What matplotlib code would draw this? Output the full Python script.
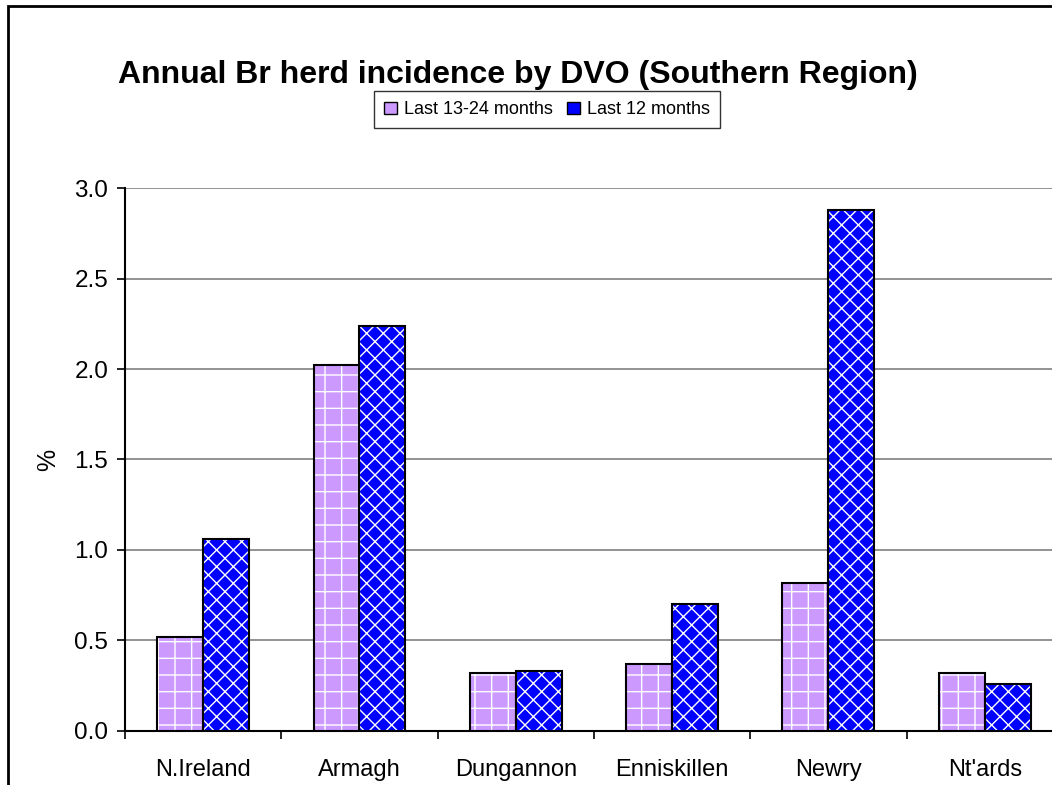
import numpy as np
import matplotlib
matplotlib.use("Agg")
import matplotlib.pyplot as plt
from matplotlib.patches import Rectangle, Patch

plt.rcParams['font.family'] = ['Liberation Sans', 'DejaVu Sans']

districts = ["N.Ireland", "Armagh", "Dungannon", "Enniskillen", "Newry", "Nt'ards"]
prev_year = [0.52, 2.02, 0.32, 0.37, 0.82, 0.32]   # Last 13-24 months
last_year = [1.06, 2.24, 0.33, 0.70, 2.88, 0.26]   # Last 12 months
series_names = ["Last 13-24 months", "Last 12 months"]

fig = plt.figure(figsize=(10.52, 7.85), dpi=100)
ax = fig.add_axes([0.1188, 0.0688, 0.8916, 0.6917])

x = np.arange(len(districts))
w = 0.294

# hatched fills first, then black outlines on top
ax.bar(x - w / 2, prev_year, w, color='#CC99FF', edgecolor='white', hatch='+', linewidth=0, zorder=3)
ax.bar(x + w / 2, last_year, w, color='#0000FF', edgecolor='white', hatch='xx', linewidth=0, zorder=3)
ax.bar(x - w / 2, prev_year, w, fill=False, edgecolor='black', linewidth=1.5, zorder=4)
ax.bar(x + w / 2, last_year, w, fill=False, edgecolor='black', linewidth=1.5, zorder=4)

ax.set_xlim(-0.5, len(districts) - 0.5)
ax.set_ylim(0, 3.0)
ax.set_yticks(np.arange(0, 3.01, 0.5))
ax.set_yticklabels([f"{v:.1f}" for v in np.arange(0, 3.01, 0.5)], fontsize=17.5)
ax.yaxis.grid(True, color='#808080', linewidth=1.2, zorder=0)
ax.set_axisbelow(True)

ax.set_xticks(x)
ax.set_xticklabels(districts, fontsize=17)
ax.set_xticks(np.arange(-0.5, len(districts), 1.0), minor=True)
ax.tick_params(axis='x', which='major', length=0, pad=20)
ax.tick_params(axis='x', which='minor', length=6, width=1.2, direction='out')
ax.tick_params(axis='y', length=6, width=1.2, direction='out', pad=6)

for s in ['top', 'right']:
    ax.spines[s].set_visible(False)
ax.spines['left'].set_linewidth(1.5)
ax.spines['bottom'].set_linewidth(1.5)

ax.set_ylabel('%', fontsize=18, labelpad=10)

handles = [Patch(facecolor='#CC99FF', edgecolor='black'),
           Patch(facecolor='#0000FF', edgecolor='black')]
leg = fig.legend(handles, series_names, loc='center', bbox_to_anchor=(0.52, 0.86),
                 ncol=2, fontsize=13, frameon=True, fancybox=False,
                 handlelength=0.7, handleheight=0.7, handletextpad=0.4,
                 columnspacing=0.8, borderpad=0.55)
leg.get_frame().set_edgecolor('black')
leg.get_frame().set_linewidth(1.0)

fig.text(0.492, 0.905, 'Annual Br herd incidence by DVO (Southern Region)',
         ha='center', va='center', fontsize=23, fontweight='bold')

# chart area border (extends past the image on right/bottom)
fig.patches.append(Rectangle((8 / 1052, -0.1), 1.2, 1.0 - 6 / 785 + 0.1,
                             transform=fig.transFigure, fill=False,
                             edgecolor='black', linewidth=2.0))

fig.savefig('out.png', dpi=100)
